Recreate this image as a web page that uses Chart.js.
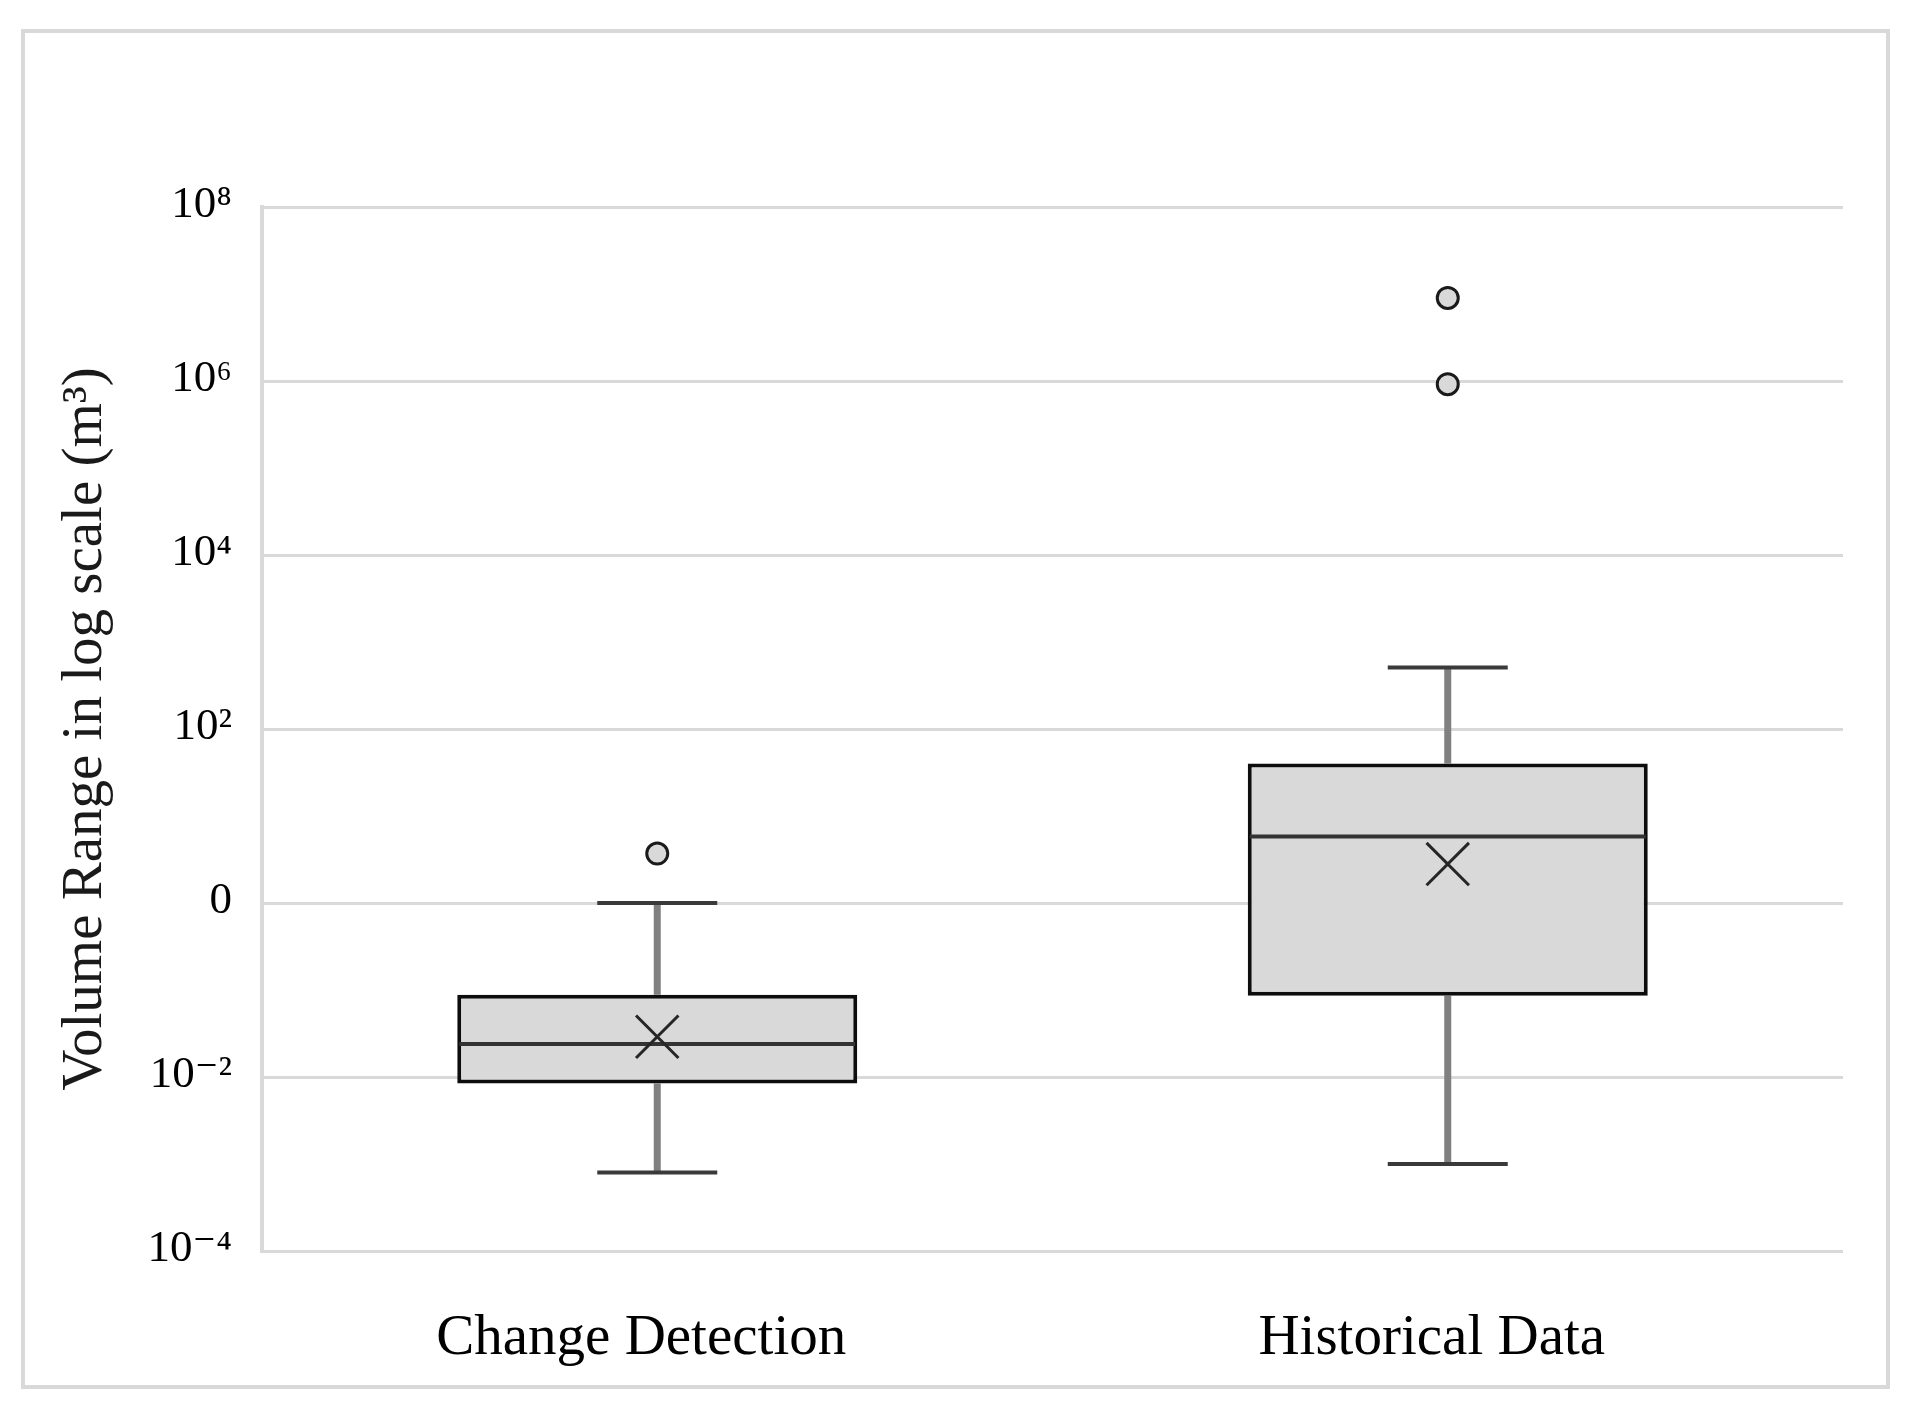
<!DOCTYPE html>
<html>
<head>
<meta charset="utf-8">
<title>Volume Range box plot</title>
<script src="https://cdn.jsdelivr.net/npm/chart.js@4.4.1/dist/chart.umd.min.js"></script>
<style>
  html, body { margin: 0; padding: 0; background: #ffffff; }
  #frame {
    position: absolute; left: 21px; top: 29px;
    width: 1869px; height: 1360px;
    border: 4px solid #d9d9d9; box-sizing: border-box;
  }
</style>
</head>
<body>
<div id="frame"><canvas id="boxplot"></canvas></div>
<script>
// data (m3)
const categories = ['Change Detection', 'Historical Data'];
const whiskerMin = [0.0008, 0.001];
const q1 = [0.0084, 0.086];
const median = [0.024, 5.8];
const q3 = [0.088, 40];
const whiskerMax = [1, 510];
const mean = [0.029, 2.8];
const outliers = [[3.7], [920000, 9000000]];

const yTickValues = [1e-4, 1e-2, 1, 1e2, 1e4, 1e6, 1e8];
const yTickLabels = ['10\u207B\u2074', '10\u207B\u00B2', '0', '10\u00B2', '10\u2074', '10\u2076', '10\u2078'];

const serif = "'Liberation Serif', 'DejaVu Serif', serif";

// whiskers under the boxes, median line on top of the box
const boxExtras = {
  id: 'boxExtras',
  beforeDatasetsDraw(chart) {
    const ctx = chart.ctx;
    const x = chart.scales.x, y = chart.scales.y;
    const bars = chart.getDatasetMeta(chart.data.datasets.length - 1).data;
    ctx.save();
    categories.forEach((c, i) => {
      const cx = x.getPixelForValue(i);
      const capHalf = bars[i].width * 0.15;
      ctx.strokeStyle = '#808080';
      ctx.lineWidth = 7;
      ctx.beginPath();
      ctx.moveTo(cx, y.getPixelForValue(q3[i]));
      ctx.lineTo(cx, y.getPixelForValue(whiskerMax[i]));
      ctx.moveTo(cx, y.getPixelForValue(q1[i]));
      ctx.lineTo(cx, y.getPixelForValue(whiskerMin[i]));
      ctx.stroke();
      ctx.strokeStyle = '#3a3a3a';
      ctx.lineWidth = 4;
      ctx.beginPath();
      [whiskerMax[i], whiskerMin[i]].forEach(v => {
        const py = y.getPixelForValue(v);
        ctx.moveTo(cx - capHalf, py);
        ctx.lineTo(cx + capHalf, py);
      });
      ctx.stroke();
    });
    ctx.restore();
  },
  afterDatasetDraw(chart, args) {
    if (args.meta.type !== 'bar') return;
    const ctx = chart.ctx;
    const y = chart.scales.y;
    ctx.save();
    ctx.strokeStyle = '#333333';
    ctx.lineWidth = 4;
    args.meta.data.forEach((bar, i) => {
      const py = y.getPixelForValue(median[i]);
      ctx.beginPath();
      ctx.moveTo(bar.x - bar.width / 2 + 2, py);
      ctx.lineTo(bar.x + bar.width / 2 - 2, py);
      ctx.stroke();
    });
    ctx.restore();
  }
};

const outlierPoints = [];
outliers.forEach((list, i) => list.forEach(v => outlierPoints.push({ x: categories[i], y: v })));

new Chart(document.getElementById('boxplot').getContext('2d'), {
  type: 'bar',
  data: {
    labels: categories,
    datasets: [
      {
        type: 'scatter',
        label: 'Mean',
        data: categories.map((c, i) => ({ x: c, y: mean[i] })),
        pointStyle: 'crossRot',
        radius: 30,
        borderColor: '#262626',
        borderWidth: 3,
        backgroundColor: 'transparent'
      },
      {
        type: 'scatter',
        label: 'Outliers',
        data: outlierPoints,
        pointStyle: 'circle',
        radius: 10.5,
        borderColor: '#1a1a1a',
        borderWidth: 3,
        backgroundColor: '#d9d9d9'
      },
      {
        label: 'Box',
        data: categories.map((c, i) => [q1[i], q3[i]]),
        backgroundColor: '#d9d9d9',
        borderColor: '#0d0d0d',
        borderWidth: 4,
        borderSkipped: false,
        barPercentage: 0.506,
        categoryPercentage: 1
      }
    ]
  },
  options: {
    responsive: true,
    maintainAspectRatio: false,
    animation: false,
    layout: {
      padding: { left: 0, right: 43, top: 174, bottom: 0 }
    },
    plugins: {
      legend: { display: false },
      tooltip: { enabled: false }
    },
    scales: {
      x: {
        type: 'category',
        grid: { display: false },
        border: { display: false },
        ticks: {
          color: '#000000',
          font: { family: serif, size: 57 },
          padding: 46,
          labelOffset: -16,
          maxRotation: 0
        },
        afterFit(scale) { scale.height = 134; }
      },
      y: {
        type: 'logarithmic',
        min: 1e-4,
        max: 1e8,
        afterBuildTicks(scale) {
          scale.ticks = yTickValues.map(v => ({ value: v }));
        },
        afterFit(scale) { scale.width = 237; },
        grid: { color: '#d9d9d9', lineWidth: 3, drawTicks: false },
        border: { display: true, color: '#d9d9d9', width: 4 },
        ticks: {
          color: '#000000',
          font: { family: serif, size: 45 },
          padding: 30,
          labelOffset: -2,
          callback: (value, index) => yTickLabels[index]
        },
        title: {
          display: true,
          text: 'Volume Range in log scale (m\u00B3)',
          color: '#1a1a1a',
          font: { family: serif, size: 57 },
          padding: { top: 27, bottom: 0 }
        }
      }
    }
  },
  plugins: [boxExtras]
});
</script>
</body>
</html>
